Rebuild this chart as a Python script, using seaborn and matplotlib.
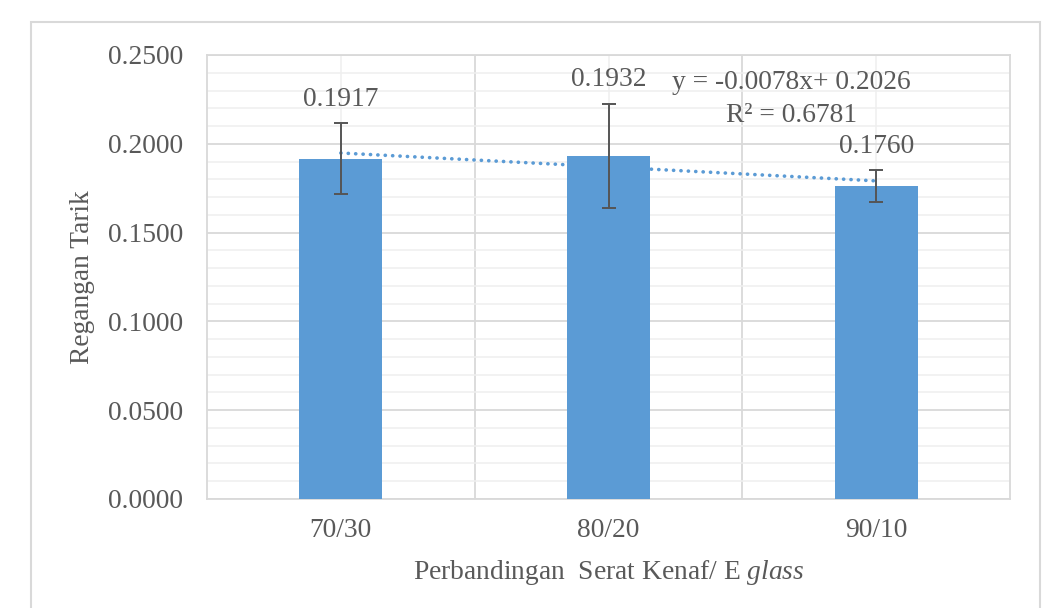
import numpy as np
import pandas as pd
import matplotlib
matplotlib.use("Agg")
import matplotlib.pyplot as plt
import seaborn as sns
from matplotlib.ticker import MultipleLocator, FormatStrFormatter, FixedLocator
from matplotlib.patches import Rectangle

# ---- data ----
categories = ["70/30", "80/20", "90/10"]
values = [0.1917, 0.1932, 0.1760]
errors = [0.0200, 0.0293, 0.0090]
eq_line = "y = -0.0078x+ 0.2026"
r2_line = "R² = 0.6781"
x_label_main = "Perbandingan  Serat Kenaf/ E "
x_label_italic = "glass"
y_label = "Regangan Tarik"

sns.set_style("white")
plt.rcParams["font.family"] = ["Liberation Serif", "DejaVu Serif"]
plt.rcParams["mathtext.fontset"] = "custom"
plt.rcParams["mathtext.rm"] = "Liberation Serif"
plt.rcParams["mathtext.it"] = "Liberation Serif:italic"

TXT = "#595959"
BAR = "#5B9BD5"
MAJ = "#D9D9D9"
MIN = "#EFEFEF"
FS = 19.8

fig = plt.figure(figsize=(10.51, 6.08), dpi=100)
ax = fig.add_axes([207/1051, 1-499/608, (1010-207)/1051, (499-55)/608])

df = pd.DataFrame({"cat": categories, "val": values})
sns.barplot(data=df, x="cat", y="val", color=BAR, saturation=1, width=0.31,
            errorbar=None, ax=ax, zorder=3, linewidth=0)

xpos = np.arange(len(categories))
ax.errorbar(xpos, values, yerr=errors, fmt="none", ecolor="#555555",
            elinewidth=1.4, capsize=5, capthick=1.4, zorder=4)

# linear trendline
coef = np.polyfit(xpos + 1, values, 1)
ax.plot(xpos, np.polyval(coef, xpos + 1), color=BAR, lw=2.6,
        linestyle=(0, (0.05, 2.0)), dash_capstyle="round", zorder=2.5)

# data labels
for i, (v, e) in enumerate(zip(values, errors)):
    ax.annotate(f"{v:.4f}", xy=(i, v + e), xytext=(0, 12.5),
                textcoords="offset points", ha="center", va="baseline",
                fontsize=FS, color=TXT, zorder=5)

ax.text(0.728, 0.923, eq_line, transform=ax.transAxes, ha="center",
        va="baseline", fontsize=FS, color=TXT, zorder=5)
ax.text(0.728, 0.849, r2_line, transform=ax.transAxes, ha="center",
        va="baseline", fontsize=FS, color=TXT, zorder=5)

ax.set_xlim(-0.5, 2.5)
ax.set_ylim(0, 0.25)
ax.yaxis.set_major_locator(MultipleLocator(0.05))
ax.yaxis.set_minor_locator(MultipleLocator(0.01))
ax.yaxis.set_major_formatter(FormatStrFormatter("%.4f"))
ax.xaxis.set_minor_locator(FixedLocator([0.5, 1.5]))

ax.set_axisbelow(True)
ax.grid(which="major", axis="y", color=MAJ, lw=1.3)
ax.grid(which="minor", axis="y", color=MIN, lw=1.1)
ax.grid(which="minor", axis="x", color=MAJ, lw=1.3)
ax.grid(which="major", axis="x", color=MIN, lw=1.1)

ax.tick_params(which="both", length=0)
ax.tick_params(axis="y", pad=17, labelsize=FS, labelcolor=TXT)
ax.tick_params(axis="x", pad=14, labelsize=FS, labelcolor=TXT)

for s in ax.spines.values():
    s.set_visible(True)
    s.set_color(MAJ)
    s.set_linewidth(1.3)

ax.set_ylabel(y_label, fontsize=FS, color=TXT)
ax.yaxis.set_label_coords(-0.14, 0.5)
ax.set_xlabel(x_label_main + r"$\mathit{" + x_label_italic + "}$", fontsize=FS, color=TXT)
ax.xaxis.set_label_coords(0.5, -0.133)

fig.patches.append(Rectangle((31/1051, -0.05), (1040-31)/1051, 1-22/608+0.05,
                             transform=fig.transFigure, fill=False,
                             edgecolor=MAJ, lw=1.5))

fig.savefig("out.png", dpi=100, facecolor="white")
